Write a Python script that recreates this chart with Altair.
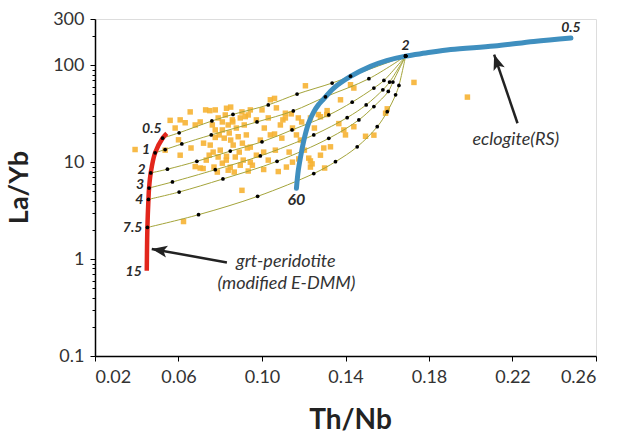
import altair as alt
import pandas as pd

FONT = "Lato"

# ---------------- axis ticks ----------------
X_TICKS = [0.02, 0.06, 0.10, 0.14, 0.18, 0.22, 0.26]
Y_MAJOR = [0.1, 1, 10, 100, 300]
Y_MINOR = [0.2, 0.3, 0.4, 0.5, 0.6, 0.7, 0.8, 0.9,
           2, 3, 4, 5, 6, 7, 8, 9,
           20, 30, 40, 50, 60, 70, 80, 90, 200]

# ---------------- grt-peridotite melting curve (red) ----------------
red_x = [0.0544, 0.0524, 0.0488, 0.0467, 0.0459, 0.0456, 0.0451, 0.0448]
red_y = [19.8, 17.7, 12.5, 7.74, 5.41, 4.13, 2.12, 0.758]
red_labels = ["", "0.5", "1", "2", "3", "4", "7.5", "15"]

# ---------------- eclogite melting curve (blue) ----------------
blue_x = [0.1165, 0.1174, 0.1189, 0.1203, 0.1222, 0.1248, 0.1270, 0.1296, 0.1344,
          0.1424, 0.1520, 0.1597, 0.1688, 0.1784, 0.1904, 0.2112, 0.2302, 0.2480]
blue_y = [5.37, 8.26, 12.7, 17.7, 24.8, 33.0, 39.0, 45.0, 58.2,
          76.7, 97.4, 111.6, 124.3, 133.5, 145.2, 157.8, 175.7, 191.0]
blue_labels = ["60", "2", "0.5"]
blue_label_x = [0.1165, 0.1688, 0.2480]
blue_label_y = [5.37, 124.3, 191.0]

# ---------------- mixing curves (dots = mixing steps) ----------------
mix_05_x = [0.0524, 0.0603, 0.0760, 0.0861, 0.1030, 0.1168, 0.1336, 0.1424, 0.1688]
mix_05_y = [17.7, 20.1, 26.6, 31.1, 39.0, 50.4, 65.5, 77.1, 124.3]
mix_1_x = [0.0488, 0.0536, 0.0616, 0.0757, 0.0976, 0.1150, 0.1304, 0.1512, 0.1688]
mix_1_y = [12.5, 13.5, 15.4, 19.1, 26.0, 33.8, 47.2, 72.6, 124.3]
mix_2_x = [0.0467, 0.0547, 0.0688, 0.0848, 0.1000, 0.1144, 0.1320, 0.1432, 0.1536, 0.1584, 0.1688]
mix_2_y = [7.74, 8.46, 10.2, 13.0, 16.2, 21.5, 30.7, 41.6, 58.2, 69.7, 124.3]
mix_3_x = [0.0459, 0.0571, 0.0776, 0.0992, 0.1248, 0.1408, 0.1499, 0.1579, 0.1611, 0.1688]
mix_3_y = [5.41, 6.25, 8.36, 11.6, 19.1, 28.8, 39.0, 55.8, 67.1, 124.3]
mix_4_x = [0.0456, 0.0603, 0.0813, 0.1072, 0.1320, 0.1464, 0.1536, 0.1605, 0.1627, 0.1688]
mix_4_y = [4.13, 4.92, 6.71, 10.2, 17.6, 27.3, 37.5, 53.6, 67.1, 124.3]
mix_75_x = [0.0451, 0.0696, 0.0979, 0.1248, 0.1352, 0.1456, 0.1552, 0.1600, 0.1640, 0.1656, 0.1688]
mix_75_y = [2.12, 2.87, 4.44, 7.63, 10.1, 14.4, 23.2, 33.2, 49.5, 61.9, 124.3]

# ---------------- samples (orange squares) ----------------
sq_x = [
    0.0392, 0.0536, 0.0560, 0.0584, 0.0608, 0.0608, 0.0600, 0.0632, 0.0656, 0.0660,
    0.0680, 0.0680, 0.0704, 0.0704, 0.0720, 0.0730, 0.0750, 0.0776, 0.0850, 0.0830,
    0.0776, 0.0810, 0.0800, 0.0830, 0.0850, 0.0860, 0.0770, 0.0904, 0.0920, 0.1030,
    0.1040, 0.1060, 0.1140, 0.1112, 0.1100, 0.1190, 0.1208, 0.1270, 0.1310, 0.1060,
    0.1095, 0.1040, 0.0944, 0.1008, 0.1064, 0.1130, 0.1184, 0.1232, 0.1280, 0.1176,
    0.0944, 0.0896, 0.1008, 0.1300, 0.1232, 0.1424, 0.1440, 0.1376, 0.1728, 0.1984,
    0.1280, 0.1312, 0.1368, 0.1392, 0.1400, 0.1296, 0.1224, 0.1240, 0.1496, 0.1536,
    0.1592, 0.1600, 0.1440, 0.1328,
    0.0790, 0.0810, 0.0824, 0.0838, 0.0858, 0.0877, 0.0896, 0.0915, 0.0762, 0.0776,
    0.0795, 0.0819, 0.0843, 0.0862, 0.0886, 0.0906, 0.0925, 0.0752, 0.0766, 0.0790,
    0.0810, 0.0829, 0.0848, 0.0872, 0.0891, 0.0910, 0.0930, 0.0733, 0.0747, 0.0718,
    0.0786, 0.0838, 0.0867, 0.0934, 0.0954, 0.0973, 0.0992, 0.1011, 0.0973, 0.0944,
    0.1000, 0.1069, 0.1088, 0.1146, 0.1165, 0.1203, 0.1146, 0.1117, 0.1078, 0.1030,
    0.0934, 0.1112, 0.0904, 0.0624, 0.1232, 0.1251, 0.1174]
sq_y = [
    13.5, 13.3, 27.0, 22.5, 27.3, 11.8, 17.0, 25.5, 33.0, 14.0,
    24.2, 9.0, 26.0, 8.7, 15.7, 34.6, 34.0, 34.6, 37.0, 36.0,
    18.0, 21.5, 13.3, 11.5, 16.9, 26.0, 8.9, 33.0, 29.5, 28.6,
    44.0, 45.5, 31.5, 28.6, 27.3, 26.0, 61.4, 31.0, 31.0, 19.5,
    17.7, 19.1, 14.3, 12.7, 13.3, 12.7, 16.9, 10.3, 11.8, 10.8,
    10.0, 9.3, 8.4, 8.7, 8.9, 62.9, 58.2, 44.0, 66.5, 46.9,
    29.4, 34.0, 25.0, 21.5, 19.1, 14.0, 11.0, 9.6, 18.5, 19.0,
    32.0, 35.5, 23.2, 14.4,
    28.6, 26.0, 30.7, 24.2, 27.3, 22.5, 28.6, 24.2, 24.2, 21.5,
    19.1, 17.7, 20.0, 15.0, 18.3, 15.7, 19.1, 15.0, 12.7, 11.3,
    9.76, 10.5, 8.87, 11.3, 12.7, 10.5, 14.0, 10.5, 11.8, 8.6,
    7.9, 8.26, 7.9, 8.1, 9.3, 11.8, 16.9, 22.5, 27.3, 34.6,
    34.6, 36.3, 24.2, 22.5, 19.1, 13.3, 10.0, 8.9, 8.0, 10.5,
    30.7, 32.0, 5.12, 2.44, 28.6, 22.5, 28.6]

# ---------------- annotations ----------------
ann_text = ["eclogite(RS)", "grt-peridotite", "(modified E-DMM)"]
ann_x = [0.2216, 0.1114, 0.1117]
ann_y = [16.9, 0.924, 0.556]

arrow_tail_x = [0.2224, 0.0832]
arrow_tail_y = [25.2, 0.924]
arrow_tip_x = [0.2112, 0.0472]
arrow_tip_y = [128.8, 1.273]
arrow_angle = [341, 280]

# ---------------- tables ----------------
sq = pd.DataFrame({"x": sq_x, "y": sq_y})
red = pd.DataFrame({"x": red_x, "y": red_y, "o": list(range(len(red_x))), "t": red_labels})
red_lab_a = red[red["t"] == "0.5"]
red_lab_b = red[red["t"].isin(["1", "2", "3"])]
red_lab_c = red[red["t"].isin(["4", "7.5", "15"])]
blue = pd.DataFrame({"x": blue_x, "y": blue_y, "o": list(range(len(blue_x)))})
blue_lab = pd.DataFrame({"x": blue_label_x, "y": blue_label_y, "t": blue_labels})

mix_parts = []
for name, xs, ys in [("0.5", mix_05_x, mix_05_y), ("1", mix_1_x, mix_1_y),
                     ("2", mix_2_x, mix_2_y), ("3", mix_3_x, mix_3_y),
                     ("4", mix_4_x, mix_4_y), ("7.5", mix_75_x, mix_75_y)]:
    mix_parts.append(pd.DataFrame({"line": name, "x": xs, "y": ys, "o": list(range(len(xs)))}))
mix = pd.concat(mix_parts, ignore_index=True)

ann = pd.DataFrame({"x": ann_x, "y": ann_y, "t": ann_text})
arrows = pd.DataFrame({"x": arrow_tail_x, "y": arrow_tail_y,
                       "x2": arrow_tip_x, "y2": arrow_tip_y, "ang": arrow_angle})
heads = pd.DataFrame({"x": arrow_tip_x, "y": arrow_tip_y, "ang": arrow_angle})

# ---------------- scales / axes ----------------
xscale = alt.Scale(domain=[0.02, 0.26], nice=False, zero=False)
yscale = alt.Scale(type="log", domain=[0.1, 300], nice=False)

x_axis = alt.Axis(values=X_TICKS, format=".2f", title="Th/Nb", grid=False,
                  tickSize=5, tickColor="black", tickWidth=1,
                  domainColor="black", domainWidth=1.5,
                  labelFont=FONT, labelFontSize=18, labelColor="#333333", labelPadding=7,
                  titleFont=FONT, titleFontSize=28, titleFontWeight="bold",
                  titleColor="#222222", titleX=255, titleY=64, titleBaseline="middle")

y_major = alt.Axis(values=Y_MAJOR, format="~g", orient="left", grid=False,
                   tickSize=5, tickColor="black", domainColor="black", domainWidth=1.5,
                   labelFont=FONT, labelFontSize=18, labelColor="#333333", labelPadding=6,
                   title="La/Yb", titleFont=FONT, titleFontSize=27, titleFontWeight="bold",
                   titleColor="#222222", titleX=-76, titleY=168, titleAngle=-90,
                   titleBaseline="middle")

y_minor = alt.Axis(values=Y_MINOR, labels=False, orient="left", grid=False,
                   tickSize=3, tickColor="black", domain=False, title=None)


def X(f="x"):
    return alt.X(f"{f}:Q", scale=xscale, axis=x_axis)


def Y(f="y", axis=None):
    return alt.Y(f"{f}:Q", scale=yscale, axis=axis)


squares = alt.Chart(sq).mark_square(size=30, color="#f6b233", opacity=0.9).encode(
    x=X(), y=Y(axis=y_major))

mix_lines = alt.Chart(mix).mark_line(color="#a4a43a", strokeWidth=1,
                                     interpolate="catmull-rom").encode(
    x=X(), y=Y(), detail="line:N", order="o:Q")

blue_line = alt.Chart(blue).mark_line(color="#3f8fbf", strokeWidth=5, strokeCap="round",
                                      interpolate="catmull-rom").encode(
    x=X(), y=Y(), order="o:Q")

red_line = alt.Chart(red).mark_line(color="#e2261c", strokeWidth=4.5,
                                    interpolate="catmull-rom").encode(
    x=X(), y=Y(axis=y_minor), order="o:Q")

dots = alt.Chart(mix).mark_circle(size=14, color="black", opacity=1).encode(
    x=X(), y=Y())

lab_style = dict(font=FONT, fontSize=14, fontWeight="bold", fontStyle="italic",
                 color="#2a2a2a")
red_lab1 = alt.Chart(red_lab_a).mark_text(align="right", baseline="middle",
                                           dx=-1, dy=-9, **lab_style).encode(
    x=X(), y=Y(), text="t:N")
red_lab2 = alt.Chart(red_lab_b).mark_text(align="right", baseline="middle",
                                           dx=-5, dy=-3, **lab_style).encode(
    x=X(), y=Y(), text="t:N")
red_lab3 = alt.Chart(red_lab_c).mark_text(align="right", baseline="middle",
                                           dx=-5, dy=1, **lab_style).encode(
    x=X(), y=Y(), text="t:N")
blue_lab_lo = alt.Chart(blue_lab[blue_lab["t"] == "60"]).mark_text(
    align="center", baseline="middle", dy=12, font=FONT, fontSize=16, fontWeight="bold",
    fontStyle="italic", color="#2a2a2a").encode(x=X(), y=Y(), text="t:N")
blue_lab_hi = alt.Chart(blue_lab[blue_lab["t"] != "60"]).mark_text(
    align="center", baseline="middle", dy=-10, **lab_style).encode(x=X(), y=Y(), text="t:N")

ann_text_layer = alt.Chart(ann).mark_text(font=FONT, fontSize=18, fontStyle="italic",
                                          color="#333333", align="center",
                                          baseline="middle").encode(
    x=X(), y=Y(), text="t:N")

shafts = alt.Chart(arrows).mark_rule(color="#222222", strokeWidth=2.5).encode(
    x=X(), y=Y(), x2="x2:Q", y2="y2:Q")

HEAD = "M0,0 L0.65,1.7 L0,1.3 L-0.65,1.7 Z"
arrow_heads = alt.Chart(heads).mark_point(shape=HEAD, filled=True, size=330,
                                          color="#222222", opacity=1).encode(
    x=X(), y=Y(), angle=alt.Angle("ang:Q", scale=None))

chart = alt.layer(
    squares, mix_lines, blue_line, red_line, dots,
    red_lab1, red_lab2, red_lab3, blue_lab_lo, blue_lab_hi,
    ann_text_layer, shafts, arrow_heads
).resolve_axis(y="independent").properties(
    width=501, height=337,
    padding={"left": 95, "top": 19, "right": 26, "bottom": 85},
    autosize=alt.AutoSizeParams(type="none"),
).configure_view(stroke="black", strokeWidth=1.5).configure(font=FONT)

chart.save("out.html", embed_options={"renderer": "svg", "actions": False})
